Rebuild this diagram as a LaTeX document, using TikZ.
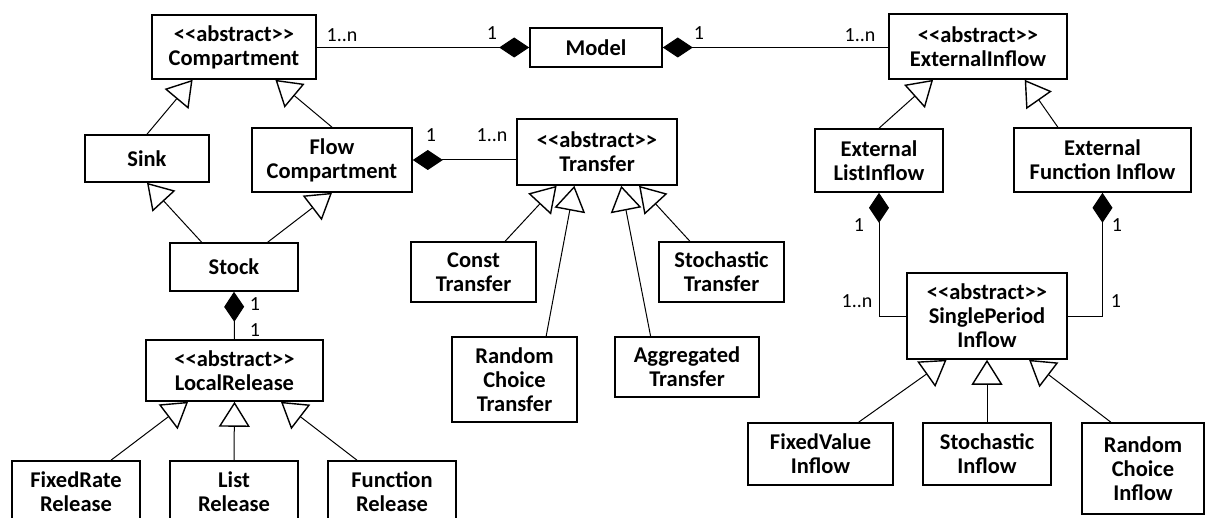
\documentclass[tikz,border=0pt]{standalone}
\usepackage{fontspec}
\setmainfont{Carlito}
\usetikzlibrary{arrows.meta,calc}
\newcommand{\umlbox}[6]{\node[cls,minimum width={(#4)-(#2)},minimum height={(#5)-(#3)}] (#1) at ({((#2)+(#4))/2},{((#3)+(#5))/2}) {#6};}
\begin{document}
\begin{tikzpicture}[x=1pt,y=-1pt,
 cls/.style={draw,line width=1.6pt,align=center,font=\fontsize{22.5}{24}\selectfont\bfseries,inner sep=0pt},
 mult/.style={font=\fontsize{20}{22}\selectfont,inner sep=0pt},
 gen/.style={line width=1pt,-{Triangle[open,length=25pt,width=31pt,line width=1.4pt]}},
 compos/.style={line width=1pt,{Diamond[length=30pt,width=20pt]}-}]
\useasboundingbox (0,0) rectangle (1206,518);
\clip (0,0) rectangle (1206,518);
% classes
\umlbox{comp}{152}{15}{316}{79}{<{}<abstract>{}>\\Compartment}
\umlbox{model}{530}{28}{662}{67}{Model}
\umlbox{extin}{889}{14}{1067}{79}{<{}<abstract>{}>\\ExternalInflow}
\umlbox{sink}{85}{135}{209}{182}{Sink}
\umlbox{flow}{252}{128}{412}{192}{Flow\\Compartment}
\umlbox{transfer}{517}{119}{677}{185}{<{}<abstract>{}>\\Transfer}
\umlbox{eli}{815}{129}{943}{192}{External\\ListInflow}
\umlbox{efi}{1014}{128}{1191}{192}{External\\Function Inflow}
\umlbox{stock}{170}{243}{298}{291}{Stock}
\umlbox{localrel}{146}{340}{323}{401}{<{}<abstract>{}>\\LocalRelease}
\umlbox{fixedrate}{12}{461}{140}{523}{FixedRate\\Release}
\umlbox{listrel}{170}{461}{298}{523}{List\\Release}
\umlbox{funcrel}{328}{461}{456}{523}{Function\\Release}
\umlbox{const}{411}{242}{536}{302}{Const\\Transfer}
\umlbox{stocht}{659}{242}{784}{302}{Stochastic\\Transfer}
\umlbox{rct}{452}{337}{577}{422}{Random\\Choice\\Transfer}
\umlbox{agg}{615}{337}{759}{397}{Aggregated\\Transfer}
\umlbox{spi}{907}{273}{1067}{359}{<{}<abstract>{}>\\SinglePeriod\\Inflow}
\umlbox{fvi}{748}{423}{893}{485}{FixedValue\\Inflow}
\umlbox{si}{923}{423}{1051}{485}{Stochastic\\Inflow}
\umlbox{rci}{1082}{423}{1204}{514}{Random\\Choice\\Inflow}
% compositions
\draw[compos] (model.west) -- (model.west -| comp.east);
\draw[compos] (model.east) -- (model.east -| extin.west);
\draw[compos] (flow.east) -- (flow.east -| transfer.west);
\draw[compos] (stock.south) -- (localrel.north);
\draw[compos] (eli.south) |- (spi.west);
\draw[compos] (efi.south) |- (spi.east);
% generalizations
\draw[gen] (sink.north) -- ($(comp.south west)!0.25!(comp.south east)$);
\draw[gen] (flow.north) -- ($(comp.south west)!0.75!(comp.south east)$);
\draw[gen] ($(stock.north west)!0.25!(stock.north east)$) -- (sink.south);
\draw[gen] ($(stock.north west)!0.76!(stock.north east)$) -- (flow.south);
\draw[gen] ($(const.north west)!0.75!(const.north east)$) -- ($(transfer.south west)!0.25!(transfer.south east)$);
\draw[gen] ($(rct.north west)!0.75!(rct.north east)$) -- ($(transfer.south west)!0.36!(transfer.south east)$);
\draw[gen] ($(agg.north west)!0.25!(agg.north east)$) -- ($(transfer.south west)!0.65!(transfer.south east)$);
\draw[gen] ($(stocht.north west)!0.25!(stocht.north east)$) -- ($(transfer.south west)!0.76!(transfer.south east)$);
\draw[gen] ($(fixedrate.north west)!0.77!(fixedrate.north east)$) -- ($(localrel.south west)!0.24!(localrel.south east)$);
\draw[gen] (listrel.north) -- (localrel.south);
\draw[gen] ($(funcrel.north west)!0.23!(funcrel.north east)$) -- ($(localrel.south west)!0.76!(localrel.south east)$);
\draw[gen] (eli.north) -- ($(extin.south west)!0.25!(extin.south east)$);
\draw[gen] ($(efi.north west)!0.25!(efi.north east)$) -- ($(extin.south west)!0.76!(extin.south east)$);
\draw[gen] ($(fvi.north west)!0.76!(fvi.north east)$) -- ($(spi.south west)!0.25!(spi.south east)$);
\draw[gen] (si.north) -- (spi.south);
\draw[gen] ($(rci.north west)!0.24!(rci.north east)$) -- ($(spi.south west)!0.76!(spi.south east)$);
% multiplicities
\node[mult] (m1) at (342,35) {1..n};
\node[mult] (m2) at (492,33) {1};
\node[mult] (m3) at (699,33) {1};
\node[mult] (m4) at (860,35) {1..n};
\node[mult] (m5) at (431,135) {1};
\node[mult] (m6) at (492,135) {1..n};
\node[mult] (m7) at (255,304) {1};
\node[mult] (m8) at (255,330) {1};
\node[mult] (m9) at (859,225) {1};
\node[mult] (m10) at (1117,225) {1};
\node[mult] (m11) at (857,301) {1..n};
\node[mult] (m12) at (1116,301) {1};
\end{tikzpicture}
\end{document}
